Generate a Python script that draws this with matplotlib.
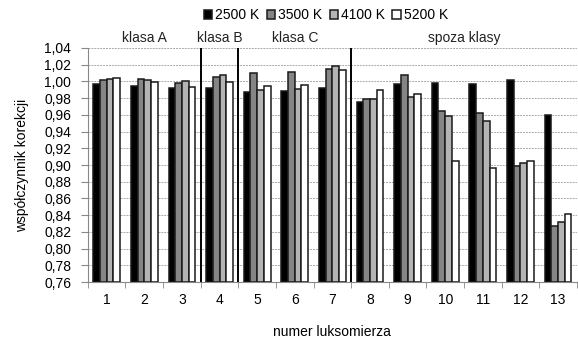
import numpy as np
import matplotlib
matplotlib.use("Agg")
import matplotlib.pyplot as plt

plt.rcParams["font.family"] = ["Liberation Sans", "DejaVu Sans"]

meters = ["1", "2", "3", "4", "5", "6", "7", "8", "9", "10", "11", "12", "13"]
series = ["2500 K", "3500 K", "4100 K", "5200 K"]
k2500 = [0.997, 0.995, 0.992, 0.992, 0.9875, 0.989, 0.992, 0.975, 0.997, 0.998, 0.997, 1.0015, 0.960]
k3500 = [1.002, 1.0025, 0.998, 1.0055, 1.0095, 1.011, 1.0145, 0.979, 1.007, 0.964, 0.962, 0.899, 0.827]
k4100 = [1.003, 1.0015, 1.000, 1.007, 0.9895, 0.991, 1.0185, 0.979, 0.9815, 0.959, 0.953, 0.903, 0.832]
k5200 = [1.0035, 0.9995, 0.9935, 0.999, 0.9945, 0.9955, 1.013, 0.9895, 0.985, 0.905, 0.897, 0.9045, 0.841]
classes = ["klasa A", "klasa B", "klasa C", "spoza klasy"]
class_pos = [2, 4, 6, 10.5]
dividers = [3.5, 4.5, 7.5]

colors = ["#000000", "#858585", "#b4b4b4", "#ffffff"]
base = 0.76
fs = 10

fig = plt.figure(figsize=(5.78, 3.42), dpi=100)
ax = fig.add_axes([0.152, 0.175, 0.846, 0.685])

x = np.arange(1, len(meters) + 1)
w = 0.178
for i, (vals, c, lab) in enumerate(zip([k2500, k3500, k4100, k5200], colors, series)):
    ax.bar(x + (i - 1.5) * w, np.array(vals) - base, w, bottom=base, color=c,
           edgecolor="#1a1a1a", linewidth=1.1, label=lab, zorder=3)

for d in dividers:
    ax.axvline(d, color="black", lw=1.4, zorder=4)
for name, p in zip(classes, class_pos):
    ax.text(p, 1.0435, name, ha="center", va="bottom", fontsize=fs, color="#222222")

ax.set_xlim(0.5, 13.5)
ax.set_ylim(0.76, 1.04)
yt = np.arange(0.76, 1.0401, 0.02)
ax.set_yticks(yt)
ax.set_yticklabels([f"{v:.2f}".replace(".", ",") for v in yt])
ax.set_xticks(x)
ax.set_xticklabels(meters)
ax.set_xticks(np.arange(0.5, 13.6, 1), minor=True)
ax.tick_params(axis="x", which="major", length=0, pad=8, labelsize=fs)
ax.tick_params(axis="x", which="minor", length=4, color="#888888")
ax.tick_params(axis="y", length=5, color="#888888", labelsize=fs, pad=7)
ax.grid(axis="y", color="#aaaaaa", ls=(0, (2, 1)), lw=0.7, zorder=0)
for s in ["top", "right"]:
    ax.spines[s].set_visible(False)
ax.spines["left"].set_color("#888888")
ax.spines["bottom"].set_color("#888888")

ax.set_ylabel("współczynnik korekcji", fontsize=fs, labelpad=11)
ax.set_xlabel("numer luksomierza", fontsize=fs, labelpad=13)
ax.legend(loc="lower center", bbox_to_anchor=(0.487, 1.085), ncol=4, frameon=False,
          fontsize=fs, handlelength=0.6, handleheight=0.6, handletextpad=0.25,
          columnspacing=0.5, borderaxespad=0)

fig.savefig("out.png", dpi=100)
